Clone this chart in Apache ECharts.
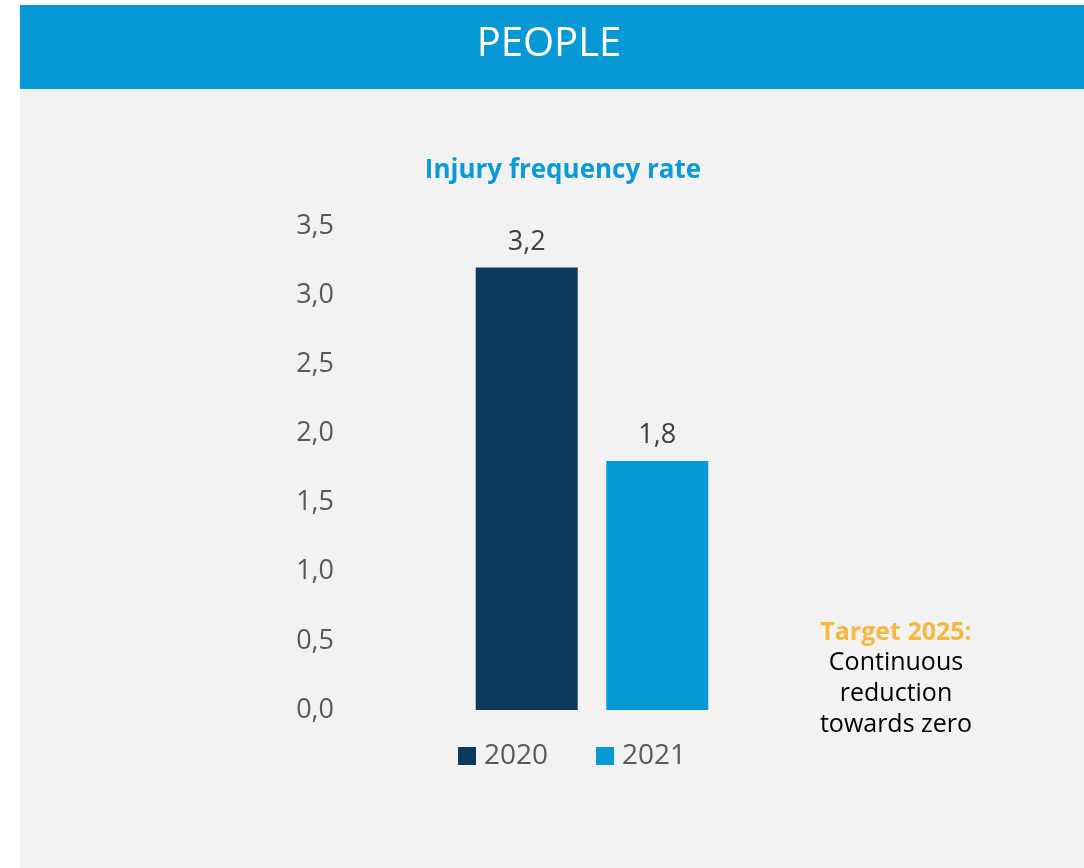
<!DOCTYPE html>
<html><head><meta charset="utf-8">
<script src="https://cdn.jsdelivr.net/npm/echarts@6/dist/echarts.min.js"></script>
<style>html,body{margin:0;padding:0;background:#fff}#c{width:1084px;height:868px}</style>
</head><body><div id="c"></div>
<script>
const categories = ['Injury frequency rate'];
const seriesNames = ['2020', '2021'];
const values2020 = [3.2];
const values2021 = [1.8];
const yTicks = [0, 0.5, 1.0, 1.5, 2.0, 2.5, 3.0, 3.5];
const colors = ['#0d3a5c', '#0798d6'];
const fmt = v => Number(v).toFixed(1).replace('.', ',');
const font = '"Open Sans", "Noto Sans", sans-serif';

const chart = echarts.init(document.getElementById('c'));
chart.setOption({
  backgroundColor: '#ffffff',
  animation: false,
  graphic: [
    {type: 'rect', z: -10, shape: {x: 20, y: 88, width: 1064, height: 780}, style: {fill: '#f2f2f2'}},
    {type: 'rect', z: -10, shape: {x: 20, y: 5, width: 1064, height: 84}, style: {fill: '#0798d6'}},
    {type: 'text', position: [549, 45], style: {text: 'PEOPLE', fill: '#ffffff', font: '40px ' + font, textAlign: 'center', textVerticalAlign: 'middle'}},
    {type: 'text', position: [563, 171], style: {text: 'Injury frequency rate', fill: '#0a9ad8', font: 'bold 26px ' + font, textAlign: 'center', textVerticalAlign: 'middle'}},
    {type: 'text', position: [896, 633], style: {text: 'Target 2025:', fill: '#f5b942', font: 'bold 25px ' + font, textAlign: 'center', textVerticalAlign: 'middle'}},
    {type: 'text', position: [896, 694], style: {text: 'Continuous\nreduction\ntowards zero', fill: '#000000', font: '25px ' + font, lineHeight: 31, textAlign: 'center', textVerticalAlign: 'middle'}}
  ],
  color: colors,
  legend: {
    data: seriesNames,
    left: 453, top: 737,
    itemWidth: 18, itemHeight: 18, itemGap: 48,
    icon: 'rect',
    textStyle: {fontSize: 28, color: '#595959', fontFamily: font, padding: [0, 0, 0, 3]}
  },
  grid: {left: 345, right: 245, top: 226, bottom: 158},
  xAxis: {
    type: 'category', data: categories,
    axisLine: {show: false}, axisTick: {show: false}, axisLabel: {show: false}
  },
  yAxis: {
    type: 'value', min: 0, max: 3.5, interval: 0.5,
    axisLine: {show: false}, axisTick: {show: false}, splitLine: {show: false},
    axisLabel: {formatter: v => yTicks.includes(v) ? fmt(v) : '', fontSize: 27, color: '#595959', fontFamily: font, margin: 11}
  },
  series: [
    {name: seriesNames[0], type: 'bar', data: values2020, barWidth: 102, barGap: '28%',
     label: {show: true, position: 'top', distance: 12, formatter: p => fmt(p.value), fontSize: 27, color: '#404040', fontFamily: font}},
    {name: seriesNames[1], type: 'bar', data: values2021, barWidth: 102,
     label: {show: true, position: 'top', distance: 12, formatter: p => fmt(p.value), fontSize: 27, color: '#404040', fontFamily: font}}
  ]
});
</script></body></html>
